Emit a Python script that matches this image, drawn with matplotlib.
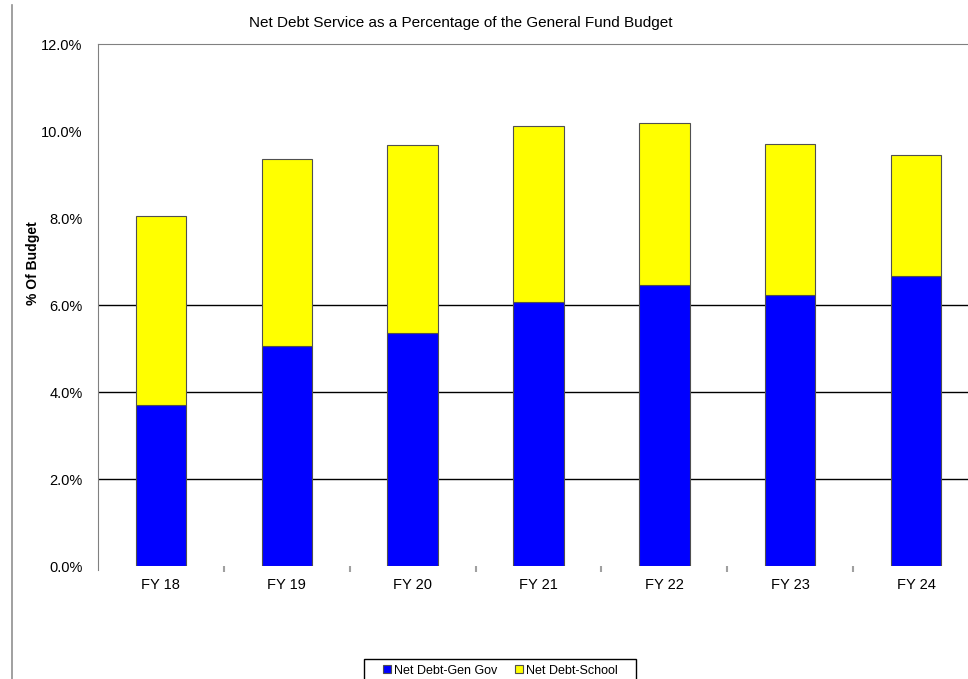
import matplotlib.pyplot as plt
import matplotlib.ticker as mticker
from matplotlib.lines import Line2D
from matplotlib.patches import Rectangle

plt.rcParams["font.family"] = ["Liberation Sans", "DejaVu Sans"]

# dados (% do orçamento)
anos = ["FY 18", "FY 19", "FY 20", "FY 21", "FY 22", "FY 23", "FY 24"]
divida_gov = [3.70, 5.07, 5.37, 6.08, 6.46, 6.24, 6.67]
divida_escola = [4.36, 4.30, 4.32, 4.03, 3.72, 3.47, 2.78]

W, H = 968, 679
fig = plt.figure(figsize=(W / 100, H / 100), dpi=100)
ax = fig.add_axes([98 / W, 1 - 566 / H, (979 - 98) / W, (566 - 44.3) / H])

x = range(len(anos))

# linhas de grade só em 2, 4 e 6%
for g in [2, 4, 6]:
    ax.axhline(g, color="black", linewidth=1.0, zorder=1)

ax.bar(x, divida_gov, width=0.4, color="#0000FF", edgecolor="#505050",
       linewidth=0.8, zorder=2, label="Net Debt-Gen Gov")
ax.bar(x, divida_escola, width=0.4, bottom=divida_gov, color="#FFFF00",
       edgecolor="#505050", linewidth=0.8, zorder=2, label="Net Debt-School")

ax.set_xlim(-0.5, len(anos) - 0.5)
ax.set_ylim(0, 12)
ax.yaxis.set_major_locator(mticker.MultipleLocator(2))
ax.yaxis.set_major_formatter(mticker.FuncFormatter(lambda v, _: f"{v:.1f}%"))
ax.tick_params(axis="y", length=0, pad=11, labelsize=10.5)

ax.set_xticks(list(x))
ax.set_xticklabels(anos, fontsize=10.5)
ax.set_xticks([i + 0.5 for i in range(len(anos) - 1)], minor=True)
ax.tick_params(axis="x", which="major", length=0, pad=8.5)
ax.tick_params(axis="x", which="minor", length=4, color="#A0A0A0", width=1.5)

for lado in ["right", "bottom"]:
    ax.spines[lado].set_visible(False)
ax.spines["top"].set_color("#808080")
ax.spines["left"].set_color("#808080")
ax.spines["left"].set_bounds(-0.1, 12)

fig.text(460.5 / W, 1 - 23 / H, "Net Debt Service as a Percentage of the General Fund Budget",
         ha="center", va="center", fontsize=11)
fig.text(33 / W, 1 - 263 / H, "% Of Budget", rotation=90, ha="center",
         va="center", fontsize=10, fontweight="bold")

# borda externa do gráfico
fig.add_artist(Line2D([12 / W, 12 / W], [0, 1 - 5 / H], color="#909090", linewidth=1.2))

# caixa da legenda (cortada na parte de baixo)
fig.add_artist(Rectangle((364 / W, -0.01), (636 - 364) / W, 0.01 + 20 / H,
                         transform=fig.transFigure, facecolor="white",
                         edgecolor="black", linewidth=1.0))
leg = fig.legend(loc="center left", bbox_to_anchor=(383 / W, 1 - 670.5 / H),
                 borderaxespad=0, borderpad=0, ncol=2, fontsize=9, frameon=False,
                 handlelength=0.6, handleheight=0.6,
                 handletextpad=0.25, columnspacing=1.45)

fig.savefig("out.png", dpi=100)
